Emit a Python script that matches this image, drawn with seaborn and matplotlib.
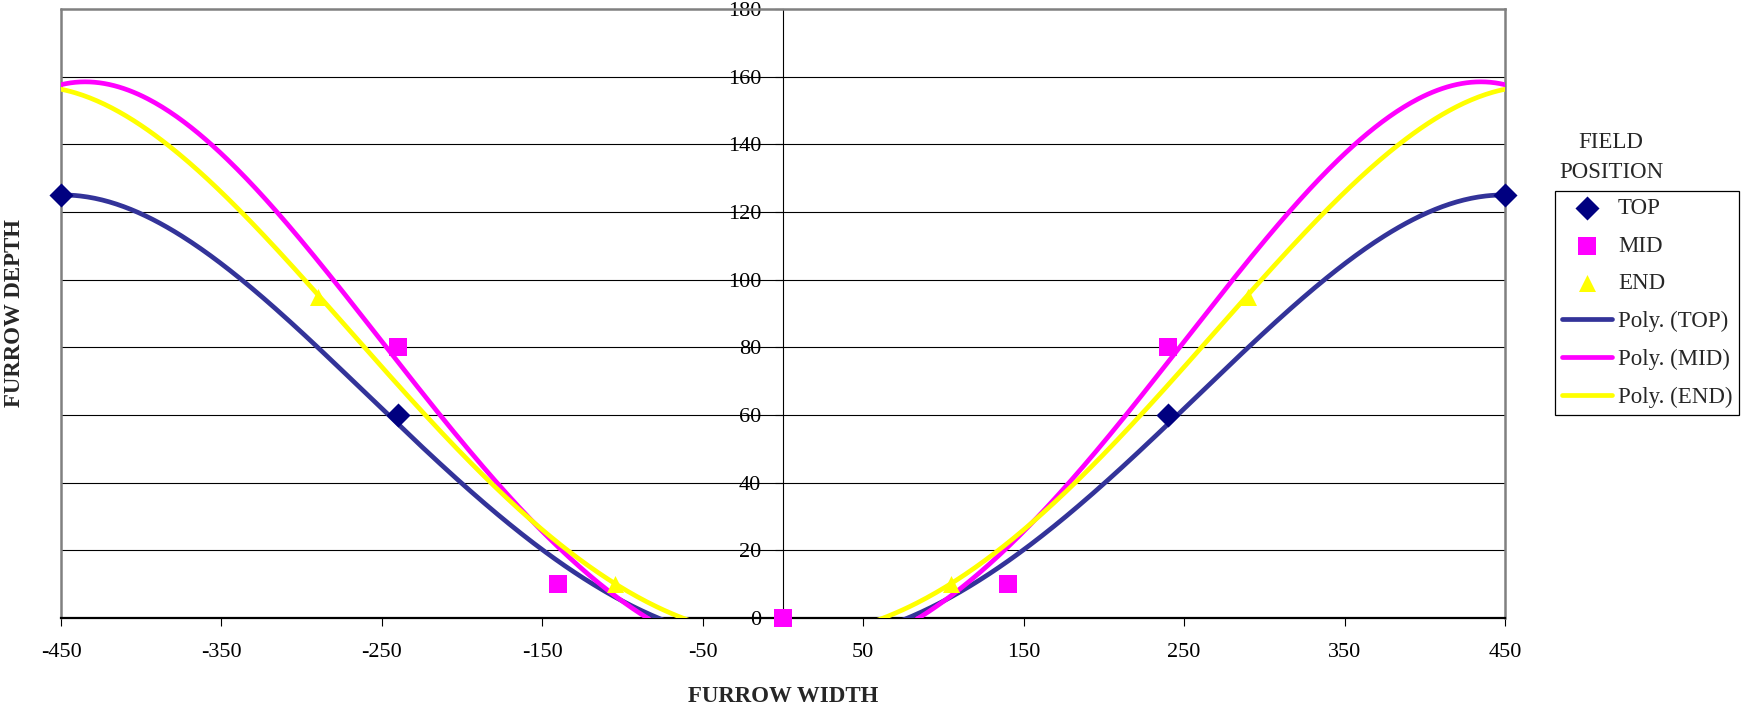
import matplotlib
matplotlib.use("Agg")
import matplotlib.pyplot as plt
import numpy as np
import seaborn as sns

# measured points per field position
TOP_X = [-450, -240, 240, 450]
TOP_Y = [125, 60, 60, 125]
MID_X = [-240, -140, 0, 140, 240]
MID_Y = [80, 10, 0, 10, 80]
END_X = [-290, -105, 105, 290]
END_Y = [95, 10, 10, 95]

# polynomial (order 4) trendline coefficients, highest power first,
# estimated from the curves in the picture
TOP_POLY = [-3.2827e-09, 0.0, 1.32105e-03, 0.0, -7.884]
MID_POLY = [-4.7831e-09, 0.0, 1.80970e-03, 0.0, -12.704]
END_POLY = [-3.4255e-09, 0.0, 1.49410e-03, 0.0, -5.805]

X_TICKS = [-450, -350, -250, -150, -50, 50, 150, 250, 350, 450]
Y_TICKS = [0, 20, 40, 60, 80, 100, 120, 140, 160, 180]

NAVY = "#000080"
TREND_BLUE = "#333399"
MAGENTA = "#FF00FF"
YELLOW = "#FFFF00"
FRAME_GREY = "#808080"

W, H = 1742, 707

sns.set_theme(style="white")
plt.rcParams["font.family"] = ["Liberation Serif", "DejaVu Serif"]
plt.rcParams["axes.unicode_minus"] = False

fig = plt.figure(figsize=(W / 100, H / 100), dpi=100)
ax = fig.add_axes([61 / W, 1 - 618 / H, 1444 / W, 609 / H])

grid = np.linspace(X_TICKS[0], X_TICKS[-1], 600)
for name, poly, col in [("TOP", TOP_POLY, TREND_BLUE),
                        ("MID", MID_POLY, MAGENTA),
                        ("END", END_POLY, YELLOW)]:
    sns.lineplot(x=grid, y=np.polyval(poly, grid), ax=ax, color=col,
                 linewidth=3.4, label=f"Poly. ({name})", sort=False, zorder=4)

marker_kw = dict(ax=ax, s=150, linewidth=0, clip_on=False, zorder=6)
sns.scatterplot(x=TOP_X, y=TOP_Y, marker="D", color=NAVY, label="TOP", **marker_kw)
sns.scatterplot(x=MID_X, y=MID_Y, marker="s", color=MAGENTA, label="MID", **marker_kw)
sns.scatterplot(x=END_X, y=END_Y, marker="^", color=YELLOW, label="END", **marker_kw)

ax.set_xlim(X_TICKS[0], X_TICKS[-1])
ax.set_ylim(Y_TICKS[0], Y_TICKS[-1])
ax.set_xticks(X_TICKS)
ax.set_xticklabels([str(v) for v in X_TICKS])
ax.set_yticks(Y_TICKS)
ax.set_yticklabels([str(v) for v in Y_TICKS])

# horizontal gridlines
for v in Y_TICKS[1:-1]:
    ax.axhline(v, color="black", linewidth=0.8, zorder=1)

# value axis sits at x = 0, plot frame is grey
ax.spines["left"].set_position(("data", 0))
ax.spines["left"].set_color("black")
ax.spines["left"].set_linewidth(0.8)
ax.spines["left"].set_zorder(2)
for side in ["top", "right"]:
    ax.spines[side].set_color(FRAME_GREY)
    ax.spines[side].set_linewidth(1.8)
ax.axvline(X_TICKS[0], color=FRAME_GREY, linewidth=1.8, clip_on=False, zorder=2)
ax.spines["bottom"].set_color("black")
ax.spines["bottom"].set_linewidth(1.6)

ax.tick_params(axis="x", direction="out", length=5.8, width=0.8, color="black",
               pad=12, labelsize=16, labelcolor="black", bottom=True)
ax.tick_params(axis="y", direction="out", length=5.8, width=0.8, color="black",
               pad=10, labelsize=16, labelcolor="black", left=True)
ax.set_xlabel("")
ax.set_ylabel("")

fig.text(15 / W, 1 - 313 / H, "FURROW DEPTH", rotation=90, ha="center", va="center",
         fontsize=16.5, fontweight="bold")
fig.text(783 / W, 1 - 697 / H, "FURROW WIDTH", ha="center", va="center",
         fontsize=16.5, fontweight="bold")

# legend: markers first, then trendlines
handles, labels = ax.get_legend_handles_labels()
order = ["TOP", "MID", "END", "Poly. (TOP)", "Poly. (MID)", "Poly. (END)"]
lookup = dict(zip(labels, handles))
if ax.get_legend() is not None:
    ax.get_legend().remove()
leg = fig.legend([lookup[k] for k in order], order, loc="upper left",
                 bbox_to_anchor=(1555 / W, 1 - 191 / H), borderaxespad=0,
                 fontsize=16.5, frameon=True, fancybox=False, framealpha=1,
                 edgecolor="black", handlelength=2.2, handletextpad=0.25,
                 labelspacing=0.73, borderpad=0.3)
leg.get_frame().set_linewidth(0.9)

fig.text(1611 / W, 1 - 143 / H, "FIELD", ha="center", va="center", fontsize=16.5)
fig.text(1611 / W, 1 - 173 / H, "POSITION", ha="center", va="center", fontsize=16.5)

fig.savefig("out.png", dpi=100)
